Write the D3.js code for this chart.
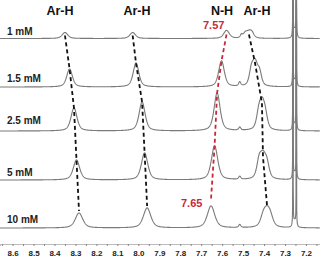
<!DOCTYPE html>
<html><head><meta charset="utf-8">
<script src="https://cdn.jsdelivr.net/npm/d3@7"></script>
<style>body{margin:0;background:#fff} svg{display:block}</style>
</head><body>
<svg id="c" width="320" height="258"></svg>
<script>
// ---- data ----
const concentrations = ["1 mM", "1.5 mM", "2.5 mM", "5 mM", "10 mM"];
const arH1Shift  = [8.350, 8.328, 8.307, 8.295, 8.283];
const arH1Height = [6, 18, 23, 20, 15];
const arH2Shift  = [8.027, 8.011, 7.982, 7.970, 7.958];
const arH2Height = [6, 24, 29, 27, 20];
const nhShift    = [7.579, 7.603, 7.624, 7.636, 7.653];
const nhHeight   = [8, 26, 38, 34, 22];
const arH3Shift  = [7.472, 7.443, 7.410, 7.405, 7.386];
const arH3Height = [6, 24, 28, 23, 17];
const arH3LeftShift  = [7.490, 7.461, 7.426, 7.424, 7.404];
const arH3LeftHeight = [4, 12, 10, 14, 7];
const arH3RightShift  = [7.458, 7.421, 7.394, 7.386, 7.370];
const arH3RightHeight = [4, 11, 9, 11, 6];
const smallShift  = [7.508, 7.516, 7.516, 7.516, 7.516];
const smallHeight = [3, 4, 3, 3, 3];
const lineWidth  = [0.016, 0.016, 0.017, 0.018, 0.021];
const solventShift = [7.262, 7.246];
const solventHeight = 10000;
const solventBase = [9, 6, 6, 7, 7];
const axisTicks = [8.6, 8.5, 8.4, 8.3, 8.2, 8.1, 8.0, 7.9, 7.8, 7.7, 7.6, 7.5, 7.4, 7.3, 7.2];
const peakLabels = ["Ar-H", "Ar-H", "N-H", "Ar-H"];
const shiftLabels = ["7.57", "7.65"];

// ---- layout ----
const W = 320, H = 258;
const baselines = [38.5, 87, 131, 180, 228];
const x = d3.scaleLinear().domain([8.66, 7.133]).range([0, W]);
const y = d3.scaleLinear().domain([0, 100]).range([0, 100]);
const svg = d3.select("#c");

// pseudo-Voigt line shape (w = half width at half maximum)
function shape(p, c, h, w) {
  const d = p - c;
  const L = w * w / (d * d + w * w);
  const G = Math.exp(-Math.LN2 * d * d / (w * w));
  return h * (0.55 * L + 0.45 * G);
}
function lor(p, c, h, w) { const d = p - c; return h * w * w / (d * d + w * w); }

function spectrum(i) {
  const peaks = [
    [arH1Shift[i], arH1Height[i], lineWidth[i]],
    [arH2Shift[i], arH2Height[i], lineWidth[i]],
    [nhShift[i], nhHeight[i], lineWidth[i]],
    [arH3Shift[i], arH3Height[i], lineWidth[i]],
    [arH3LeftShift[i], arH3LeftHeight[i], lineWidth[i] * 0.7],
    [arH3RightShift[i], arH3RightHeight[i], lineWidth[i] * 0.7],
    [smallShift[i], smallHeight[i], 0.006],
    [(solventShift[0] + solventShift[1]) / 2, solventBase[i], 0.008]
  ];
  const spikes = [
    [solventShift[0], solventHeight, 0.00008],
    [solventShift[1], solventHeight, 0.00008]
  ];
  const pts = [];
  const step = (x.domain()[0] - x.domain()[1]) / (W * 4);
  for (let p = x.domain()[0]; p >= x.domain()[1]; p -= step) pts.push(p);
  spikes.forEach(pk => pts.push(pk[0]));
  pts.sort((a, b) => b - a);
  return pts.map(p => {
    let v = 0;
    peaks.forEach(pk => v += shape(p, pk[0], pk[1], pk[2]));
    spikes.forEach(pk => v += lor(p, pk[0], pk[1], pk[2]));
    return [p, v];
  });
}

const line = (i) => d3.line()
  .x(d => x(d[0]))
  .y(d => Math.max(-5, baselines[i] - y(d[1])));

concentrations.forEach((c, i) => {
  svg.append("path")
    .attr("d", line(i)(spectrum(i)))
    .attr("fill", "none")
    .attr("stroke", "#7a7a7a")
    .attr("stroke-width", 1.1);
});

// dashed guide lines through peak tops
function guide(shifts, heights, startOff, endOff, color) {
  const pts = shifts.map((s, i) => [x(s), baselines[i] - y(heights[i])]);
  pts[0][1] += startOff;
  pts[pts.length - 1][1] += endOff;
  svg.append("path")
    .attr("d", d3.line()(pts))
    .attr("fill", "none")
    .attr("stroke", color)
    .attr("stroke-width", 1.8)
    .attr("stroke-dasharray", "4,3");
}
guide(arH1Shift, arH1Height, 3, -2, "#111");
guide(arH2Shift, arH2Height, 3, -2, "#111");
guide(nhShift, nhHeight, 4, -7, "#c8283a");
guide(arH3Shift, arH3Height, 2, -6, "#111");

// axis
const axis = d3.axisBottom(x)
  .tickValues(d3.range(0, 31).map(k => +(8.65 - k * 0.05).toFixed(2)).filter(v => v >= 7.15))
  .tickSize(2).tickPadding(4)
  .tickFormat(v => axisTicks.some(t => Math.abs(t - v) < 1e-6) ? v.toFixed(1) : "");
const g = svg.append("g").attr("transform", "translate(0,244)").call(axis);
g.select(".domain").attr("stroke", "#aaa").attr("stroke-width", 0.8);
g.selectAll(".tick line").attr("stroke", "#888");
g.selectAll(".tick text").attr("fill", "#222").attr("font-size", "8px")
  .attr("font-weight", "bold").attr("font-family", "Arial, 'Liberation Sans', sans-serif");

// labels
const font = "Arial, 'Liberation Sans', sans-serif";
const headX = [60, 137, 222, 257];
peakLabels.forEach((t, k) => {
  svg.append("text").attr("x", headX[k]).attr("y", 15).attr("text-anchor", "middle")
    .attr("font-family", font).attr("font-weight", "bold").attr("font-size", "12.5px")
    .attr("fill", "#111").text(t);
});
const concY = [35, 82, 124, 176, 223];
concentrations.forEach((t, i) => {
  svg.append("text").attr("x", 7).attr("y", concY[i])
    .attr("font-family", font).attr("font-weight", "bold").attr("font-size", "10px")
    .attr("fill", "#222").text(t);
});
svg.append("text").attr("x", 203).attr("y", 29)
  .attr("font-family", font).attr("font-weight", "bold").attr("font-size", "11px")
  .attr("fill", "#c8283a").text(shiftLabels[0]);
svg.append("text").attr("x", 181).attr("y", 207)
  .attr("font-family", font).attr("font-weight", "bold").attr("font-size", "11px")
  .attr("fill", "#c8283a").text(shiftLabels[1]);
</script>
</body></html>
